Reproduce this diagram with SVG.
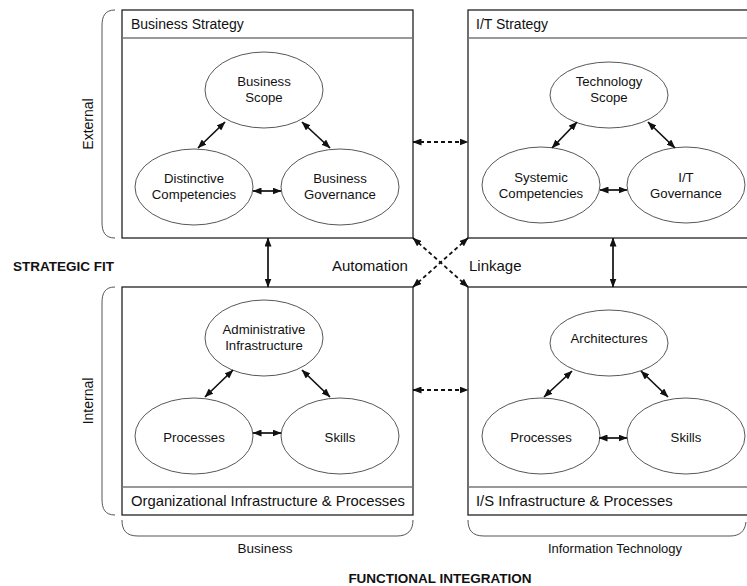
<svg xmlns="http://www.w3.org/2000/svg" width="747" height="586" viewBox="0 0 747 586">
<style>
text{font-family:"Liberation Sans",Arial,sans-serif;fill:#111}
.box{fill:#fff;stroke:#222;stroke-width:1.3}
.sep{stroke:#777;stroke-width:1.3}
.ell{fill:#fff;stroke:#444;stroke-width:0.9}
.lab{font-size:13.2px;text-anchor:middle}
.hdr{font-size:14px}
.ftr{font-size:14.8px}
.arr{stroke:#111;stroke-width:1.7;fill:none;marker-start:url(#ah);marker-end:url(#ah)}
.dash{stroke:#111;stroke-width:1.8;fill:none;stroke-dasharray:4 3;marker-start:url(#ah);marker-end:url(#ah)}
.brk{fill:none;stroke:#555;stroke-width:1}
.bold{font-weight:bold;font-size:13.5px}
</style>
<defs>
<marker id="ah" viewBox="0 0 9 7" refX="8.5" refY="3.5" markerWidth="9" markerHeight="7" markerUnits="userSpaceOnUse" orient="auto-start-reverse">
<path d="M0,0 L9,3.5 L0,7 z" fill="#111"/>
</marker>
</defs>
<rect width="747" height="586" fill="#fff"/>

<g id="business-strategy">
<rect class="box" x="122" y="10" width="291" height="228"/>
<line class="sep" x1="122" y1="38" x2="413" y2="38"/>
<text class="hdr" x="131" y="29">Business Strategy</text>
<ellipse class="ell" cx="264" cy="90" rx="59" ry="38"/>
<text class="lab" x="264" y="86">Business</text>
<text class="lab" x="264" y="102">Scope</text>
<ellipse class="ell" cx="194" cy="187" rx="59" ry="38"/>
<text class="lab" x="194" y="183">Distinctive</text>
<text class="lab" x="194" y="199">Competencies</text>
<ellipse class="ell" cx="340" cy="187" rx="59" ry="38"/>
<text class="lab" x="340" y="183">Business</text>
<text class="lab" x="340" y="199">Governance</text>
<line class="arr" x1="198" y1="148" x2="225" y2="122"/>
<line class="arr" x1="302" y1="122" x2="330" y2="148"/>
<line class="arr" x1="253" y1="191" x2="281" y2="191"/>
</g>

<g id="it-strategy">
<rect class="box" x="468" y="10" width="290" height="228"/>
<line class="sep" x1="468" y1="38" x2="758" y2="38"/>
<text class="hdr" x="476" y="29">I/T Strategy</text>
<ellipse class="ell" cx="609" cy="95" rx="59" ry="33"/>
<text class="lab" x="609" y="86">Technology</text>
<text class="lab" x="609" y="102">Scope</text>
<ellipse class="ell" cx="541" cy="185" rx="59" ry="38"/>
<text class="lab" x="541" y="182">Systemic</text>
<text class="lab" x="541" y="198">Competencies</text>
<ellipse class="ell" cx="686" cy="185" rx="59" ry="38"/>
<text class="lab" x="686" y="182">I/T</text>
<text class="lab" x="686" y="198">Governance</text>
<line class="arr" x1="552" y1="148" x2="577" y2="122"/>
<line class="arr" x1="648" y1="122" x2="675" y2="148"/>
<line class="arr" x1="600" y1="190" x2="627" y2="190"/>
</g>

<g id="org-infrastructure">
<rect class="box" x="122" y="287" width="291" height="228"/>
<line class="sep" x1="122" y1="487" x2="413" y2="487"/>
<text class="ftr" x="131" y="506">Organizational Infrastructure &amp; Processes</text>
<ellipse class="ell" cx="264" cy="338" rx="59" ry="38"/>
<text class="lab" x="264" y="334">Administrative</text>
<text class="lab" x="264" y="350">Infrastructure</text>
<ellipse class="ell" cx="194" cy="436" rx="59" ry="38"/>
<text class="lab" x="194" y="442">Processes</text>
<ellipse class="ell" cx="340" cy="436" rx="59" ry="38"/>
<text class="lab" x="340" y="442">Skills</text>
<line class="arr" x1="205" y1="397" x2="233" y2="370"/>
<line class="arr" x1="302" y1="370" x2="330" y2="397"/>
<line class="arr" x1="253" y1="433" x2="281" y2="433"/>
</g>

<g id="is-infrastructure">
<rect class="box" x="468" y="287" width="290" height="228"/>
<line class="sep" x1="468" y1="487" x2="758" y2="487"/>
<text class="ftr" x="476" y="506">I/S Infrastructure &amp; Processes</text>
<ellipse class="ell" cx="609" cy="343" rx="59" ry="33"/>
<text class="lab" x="609" y="343">Architectures</text>
<ellipse class="ell" cx="541" cy="436" rx="59" ry="38"/>
<text class="lab" x="541" y="442">Processes</text>
<ellipse class="ell" cx="686" cy="436" rx="59" ry="38"/>
<text class="lab" x="686" y="442">Skills</text>
<line class="arr" x1="544" y1="397" x2="572" y2="371"/>
<line class="arr" x1="641" y1="371" x2="668" y2="397"/>
<line class="arr" x1="599" y1="438" x2="627" y2="438"/>
</g>

<g id="connectors">
<line class="arr" x1="268" y1="238" x2="268" y2="287"/>
<line class="arr" x1="613" y1="238" x2="613" y2="287"/>
<line class="dash" x1="413" y1="142" x2="468" y2="142"/>
<line class="dash" x1="413" y1="390" x2="468" y2="390"/>
<line class="dash" x1="413" y1="238" x2="468" y2="287"/>
<line class="dash" x1="468" y1="238" x2="413" y2="287"/>
</g>

<g id="labels">
<path class="brk" d="M115,10 C105,10 102,16 102,26 L102,222 C102,232 105,238 115,238"/>
<path class="brk" d="M115,287 C105,287 102,293 102,303 L102,499 C102,509 105,515 115,515"/>
<path class="brk" d="M122,520 C122,530 126,536 138,536 L397,536 C408,536 413,530 413,520"/>
<path class="brk" d="M468,520 C468,530 472,536 484,536 L730,536 C740,536 745,531 746,522"/>
<text transform="translate(93,124) rotate(-90)" font-size="14" text-anchor="middle">External</text>
<text transform="translate(93,401) rotate(-90)" font-size="14" text-anchor="middle">Internal</text>
<text class="bold" x="13" y="271">STRATEGIC FIT</text>
<text x="332" y="271" font-size="15">Automation</text>
<text x="469" y="271" font-size="15">Linkage</text>
<text x="265" y="553" font-size="13.5" text-anchor="middle">Business</text>
<text x="615" y="553" font-size="13" text-anchor="middle">Information Technology</text>
<text class="bold" x="440" y="583" text-anchor="middle">FUNCTIONAL INTEGRATION</text>
</g>
</svg>
